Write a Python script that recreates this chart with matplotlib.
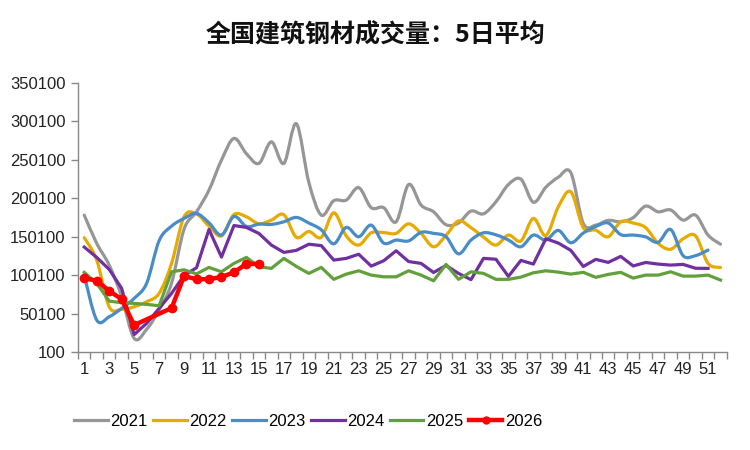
import matplotlib
matplotlib.use('Agg')
import matplotlib.pyplot as plt
from matplotlib.path import Path
from matplotlib.patches import PathPatch
from matplotlib.lines import Line2D

plt.rcParams['font.family'] = ['Liberation Sans', 'Noto Sans CJK SC', 'DejaVu Sans']

# --- data: 5-day average volume by week number ---
TITLE = '全国建筑钢材成交量：5日平均'

y2021 = [178300, 141600, 113400, 72300, 18300, 30000, 55000, 90000, 160000, 182600,
         210800, 249700, 277900, 258000, 245400, 273500, 245400, 297000, 221000, 178300,
         197000, 197800, 214000, 188000, 188000, 169600, 218000, 191300, 182600, 165800,
         168000, 183500, 180000, 195600, 218000, 225000, 195000, 214500, 227500, 233500,
         167500, 165300, 171500, 169600, 175000, 190000, 182600, 185000, 171800, 178300,
         152400, 140500]
y2022 = [148900, 120000, 59300, 55900, 59300, 65800, 76700, 115600, 176100, 179800,
         164000, 151300, 179000, 176100, 167000, 171800, 178800, 149500, 157000, 149500,
         181300, 151300, 139400, 155300, 155600, 154600, 167000, 154500, 137200, 152000,
         170800, 162000, 149800, 139400, 152400, 144800, 174000, 151700, 189100, 208600,
         162000, 158800, 150200, 169600, 168000, 162000, 141600, 134000, 147500, 151300,
         115600, 110200]
y2023 = [100000, 42000, 46300, 57200, 70200, 89700, 145000, 164000, 174000, 180500,
         168300, 152400, 176500, 163500, 166600, 166200, 169600, 175300, 168000, 159200,
         141000, 162300, 150200, 165300, 142000, 145900, 144800, 155900, 154600, 150200,
         128000, 145900, 155300, 152700, 146000, 137200, 152400, 145900, 158400, 142400,
         155000, 163500, 168000, 153000, 152400, 150000, 143000, 159700, 125700, 125700,
         132900]
y2024 = [136800, 123400, 107800, 83200, 23200, 37700, 57200, 76700, 100000, 110000,
         159700, 123800, 164800, 162300, 154500, 139400, 129900, 132500, 140500, 138700,
         119900, 122100, 127500, 112100, 119000, 132000, 118000, 115600, 103800, 113000,
         102600, 94500, 122100, 121000, 98700, 119500, 114700, 147700, 142000, 132500,
         111600, 120800, 116900, 124700, 112300, 116800, 114700, 113400, 114300, 109300,
         109100]
y2025 = [104000, 89700, 66700, 64500, 63700, 62400, 60600, 104700, 107300, 102000,
         110400, 104700, 115600, 123400, 111200, 109100, 122100, 111700, 102600, 110400,
         94900, 101700, 106000, 100400, 98200, 98200, 106000, 100400, 93000, 114300,
         94900, 104700, 102600, 94900, 94900, 97800, 103400, 106000, 104300, 101700,
         104000, 97500, 101300, 104000, 96500, 100400, 100400, 104700, 99100, 99100,
         100400, 94000]
# weeks 6 and 7 have no value for 2026, the line just joins across the gap
x2026 = [1, 2, 3, 4, 5, 8, 9, 10, 11, 12, 13, 14, 15]
y2026 = [96500, 93000, 80000, 69000, 35500, 57600, 99000, 95200, 95000, 98000,
         104000, 115000, 114800]

COLORS = {'2021': '#969696', '2022': '#E6AA00', '2023': '#4A8CC6',
          '2024': '#7030A0', '2025': '#62A03C', '2026': '#FF0000'}
YTICKS = [100, 50100, 100100, 150100, 200100, 250100, 300100, 350100]


def smooth_path(xs, ys):
    """Cubic bezier path through the points (like Excel's smoothed line)."""
    pts = list(zip(xs, ys))
    verts = [pts[0]]
    codes = [Path.MOVETO]
    n = len(pts)
    for i in range(n - 1):
        p0 = pts[max(i - 1, 0)]
        p1 = pts[i]
        p2 = pts[i + 1]
        p3 = pts[min(i + 2, n - 1)]
        c1 = (p1[0] + (p2[0] - p0[0]) / 6, p1[1] + (p2[1] - p0[1]) / 6)
        c2 = (p2[0] - (p3[0] - p1[0]) / 6, p2[1] - (p3[1] - p1[1]) / 6)
        verts += [c1, c2, p2]
        codes += [Path.CURVE4] * 3
    return Path(verts, codes)


fig = plt.figure(figsize=(7.5, 4.5), dpi=100)
ax = fig.add_axes([0.104, 0.217, 0.865, 0.599])

lw = 2.3
smoothed = [('2021', y2021), ('2022', y2022), ('2023', y2023)]
for name, vals in smoothed:
    xs = list(range(1, len(vals) + 1))
    ax.add_patch(PathPatch(smooth_path(xs, vals), fill=False, edgecolor=COLORS[name],
                           lw=lw, capstyle='round', joinstyle='round'))

ax.plot(range(1, len(y2024) + 1), y2024, color=COLORS['2024'], lw=lw)
ax.plot(range(1, len(y2025) + 1), y2025, color=COLORS['2025'], lw=lw)
ax.plot(x2026, y2026, color=COLORS['2026'], lw=3.2, marker='o', markersize=6,
        zorder=5)

ax.set_xlim(0.5, 52.5)
ax.set_ylim(100, 350100)
ax.set_yticks(YTICKS)
ax.set_yticklabels([str(v) for v in YTICKS])

# category axis: tick marks between weeks, labels on odd weeks
ax.set_xticks([i + 0.5 for i in range(0, 53)])
ax.set_xticklabels([])
ax.set_xticks(list(range(1, 53, 2)), minor=True)
ax.set_xticklabels([str(i) for i in range(1, 53, 2)], minor=True)
ax.tick_params(axis='x', which='major', length=5, color='#888888', width=1)
ax.tick_params(axis='x', which='minor', length=0, pad=7, labelsize=12, labelcolor='#222222')
ax.tick_params(axis='y', length=5, color='#888888', width=1, labelsize=12,
               labelcolor='#222222', pad=4)

for side in ['top', 'right']:
    ax.spines[side].set_visible(False)
for side in ['left', 'bottom']:
    ax.spines[side].set_color('#888888')
    ax.spines[side].set_linewidth(1)

fig.text(0.5, 0.922, TITLE, ha='center', va='center', fontsize=18, fontweight='bold',
         family=['Noto Sans CJK SC', 'DejaVu Sans'], color='#111111')

handles = []
for name in ['2021', '2022', '2023', '2024', '2025']:
    handles.append(Line2D([], [], color=COLORS[name], lw=lw))
handles.append(Line2D([], [], color=COLORS['2026'], lw=3.2, marker='o', markersize=5))
leg = fig.legend(handles, ['2021', '2022', '2023', '2024', '2025', '2026'],
                 loc='center', bbox_to_anchor=(0.411, 0.064), ncol=6, frameon=False,
                 handlelength=2.0, handletextpad=0.15, columnspacing=0.35,
                 borderpad=0, prop={'size': 12})

fig.savefig('out.png', dpi=100)
